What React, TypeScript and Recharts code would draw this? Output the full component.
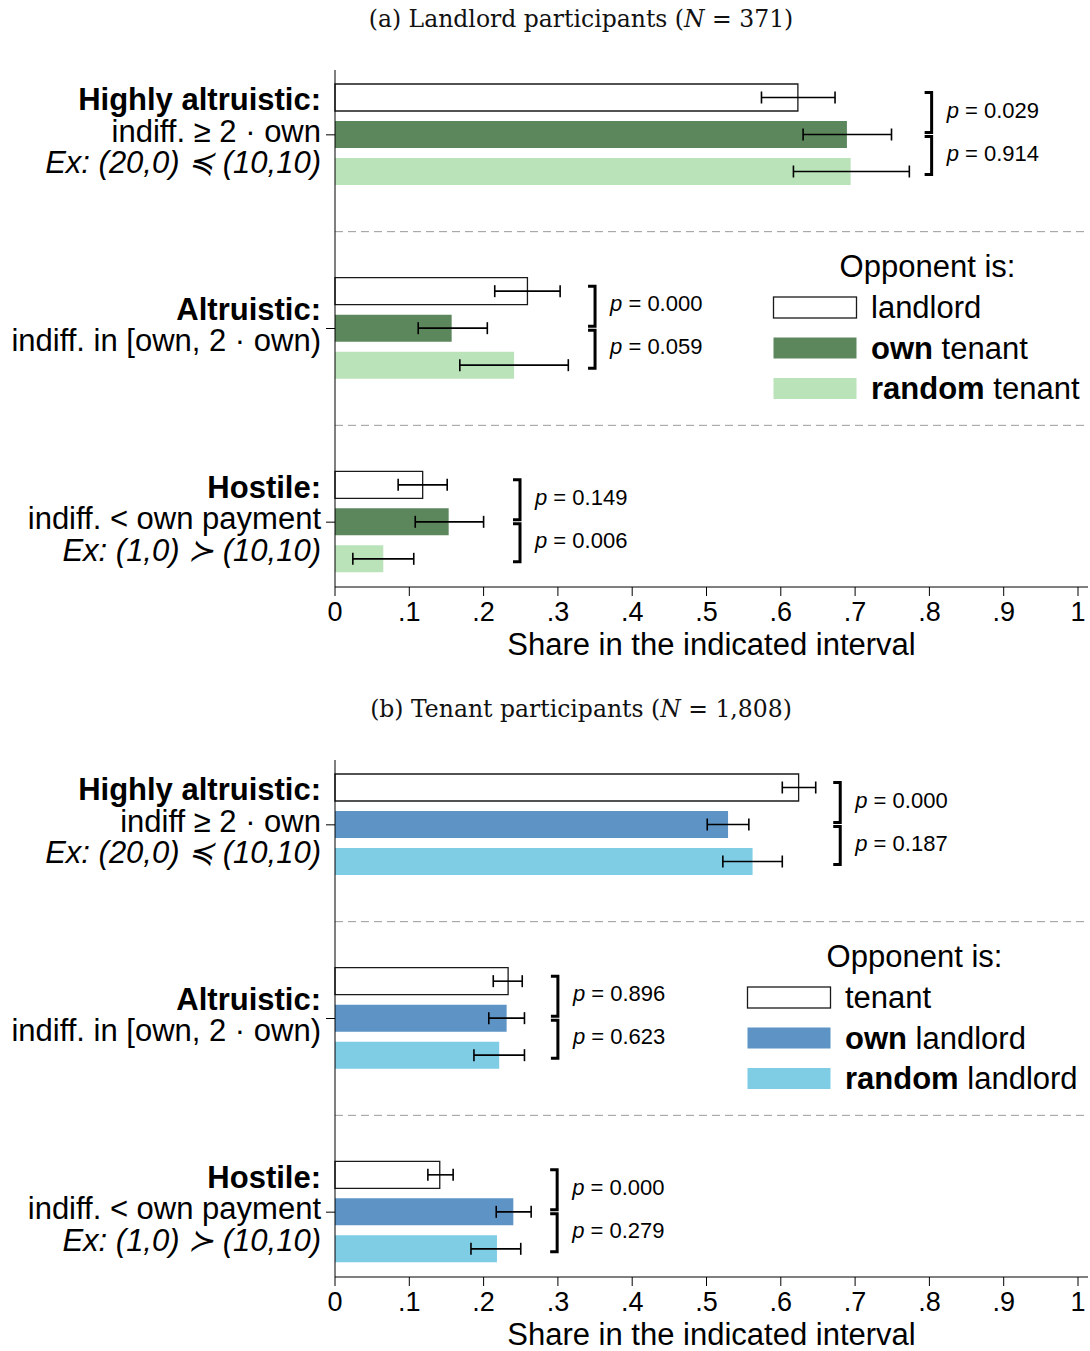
import React from 'react';
import { BarChart, Bar, XAxis, YAxis, ErrorBar, ReferenceLine, Legend, Rectangle } from 'recharts';

const categories = ['Highly altruistic', 'Altruistic', 'Hostile'];
const xTicks = [0, 0.1, 0.2, 0.3, 0.4, 0.5, 0.6, 0.7, 0.8, 0.9, 1];

// (a) landlord participants
const landlordA = [0.623, 0.259, 0.118];
const landlordALo = [0.574, 0.215, 0.085];
const landlordAHi = [0.673, 0.303, 0.151];
const ownTenantA = [0.689, 0.157, 0.153];
const ownTenantALo = [0.630, 0.112, 0.108];
const ownTenantAHi = [0.749, 0.205, 0.200];
const randomTenantA = [0.694, 0.241, 0.065];
const randomTenantALo = [0.617, 0.168, 0.024];
const randomTenantAHi = [0.773, 0.314, 0.106];
const pTopA = ['0.029', '0.000', '0.149'];
const pBottomA = ['0.914', '0.059', '0.006'];
const bracketAtA = [0.803, 0.35, 0.249];

// (b) tenant participants
const tenantB = [0.624, 0.233, 0.141];
const tenantBLo = [0.602, 0.213, 0.125];
const tenantBHi = [0.647, 0.252, 0.159];
const ownLandlordB = [0.529, 0.231, 0.240];
const ownLandlordBLo = [0.501, 0.207, 0.217];
const ownLandlordBHi = [0.557, 0.255, 0.264];
const randomLandlordB = [0.562, 0.221, 0.218];
const randomLandlordBLo = [0.522, 0.187, 0.183];
const randomLandlordBHi = [0.602, 0.255, 0.250];
const pTopB = ['0.000', '0.896', '0.000'];
const pBottomB = ['0.187', '0.623', '0.279'];
const bracketAtB = [0.68, 0.30, 0.299];

const tickLinesA = [
  [['Highly altruistic:', 'b'], ['indiff. ≥ 2 · own', 'n'], ['Ex: (20,0) ≼ (10,10)', 'i']],
  [['Altruistic:', 'b'], ['indiff. in [own, 2 · own)', 'n']],
  [['Hostile:', 'b'], ['indiff. < own payment', 'n'], ['Ex: (1,0) ≻ (10,10)', 'i']],
];
const tickLinesB = [
  [['Highly altruistic:', 'b'], ['indiff ≥ 2 · own', 'n'], ['Ex: (20,0) ≼ (10,10)', 'i']],
  [['Altruistic:', 'b'], ['indiff. in [own, 2 · own)', 'n']],
  [['Hostile:', 'b'], ['indiff. < own payment', 'n'], ['Ex: (1,0) ≻ (10,10)', 'i']],
];

const FONT = '"Liberation Sans", Arial, Helvetica, sans-serif';

type Series = { name: [string, string]; fill: string; stroke?: string; values: number[]; lo: number[]; hi: number[] };

const seriesA: Series[] = [
  { name: ['', 'landlord'], fill: '#ffffff', stroke: '#1a1a1a', values: landlordA, lo: landlordALo, hi: landlordAHi },
  { name: ['own', ' tenant'], fill: '#5c875c', values: ownTenantA, lo: ownTenantALo, hi: ownTenantAHi },
  { name: ['random', ' tenant'], fill: '#bae3ba', values: randomTenantA, lo: randomTenantALo, hi: randomTenantAHi },
];
const seriesB: Series[] = [
  { name: ['', 'tenant'], fill: '#ffffff', stroke: '#1a1a1a', values: tenantB, lo: tenantBLo, hi: tenantBHi },
  { name: ['own', ' landlord'], fill: '#5d93c5', values: ownLandlordB, lo: ownLandlordBLo, hi: ownLandlordBHi },
  { name: ['random', ' landlord'], fill: '#7ecde5', values: randomLandlordB, lo: randomLandlordBLo, hi: randomLandlordBHi },
];

const BAR = 27;
const GAP = 10;

function Panel({ title, series, pTop, pBottom, bracketAt, tickLines, legendLeft }: any) {
  const rows = categories.map((c, i) => {
    const r: any = { group: c };
    series.forEach((s: Series, k: number) => {
      r[`s${k}`] = s.values[i];
      r[`s${k}err`] = [s.values[i] - s.lo[i], s.hi[i] - s.values[i]];
    });
    return r;
  });

  const YTick = (p: any) => {
    const idx = categories.indexOf(p.payload.value);
    const lines = tickLines[idx] || [];
    const n = lines.length;
    return (
      <g>
        {lines.map(([t, st]: string[], i: number) => (
          <text
            key={i}
            x={p.x}
            y={p.y + (i - (n - 1) / 2) * 31.5 + 7}
            textAnchor="end"
            fontSize={31}
            fontFamily={FONT}
            fontWeight={st === 'b' ? 'bold' : 'normal'}
            fontStyle={st === 'i' ? 'italic' : 'normal'}
            fill="#000"
          >
            {t}
          </text>
        ))}
      </g>
    );
  };

  // last bar of each group also carries the p-value brackets
  const bracketShape = (p: any) => {
    const { x, y, width, height, index, fill } = p;
    const v = series[2].values[index];
    const k = width / v;
    const bx = x + bracketAt[index] * k;
    const c3 = y + height / 2;
    const c2 = c3 - (BAR + GAP);
    const c1 = c2 - (BAR + GAP);
    const segs: [number, number, string][] = [
      [c1 - 5, c2 - 2, pTop[index]],
      [c2 + 2, c3 + 3, pBottom[index]],
    ];
    return (
      <g>
        <Rectangle x={x} y={y} width={width} height={height} fill={fill} />
        {segs.map(([t, b, txt], i) => (
          <g key={i}>
            <path d={`M${bx - 7},${t}H${bx}V${b}H${bx - 7}`} stroke="#000" strokeWidth={3} fill="none" />
            <text x={bx + 15} y={(t + b) / 2 + 5} fontSize={22} fontFamily={FONT} fill="#000">
              <tspan fontStyle="italic">p</tspan> = {txt}
            </text>
          </g>
        ))}
      </g>
    );
  };

  const legendContent = () => {
    const w = 1082 - legendLeft;
    return (
      <svg width={w} height={170} style={{ display: 'block', overflow: 'visible' }}>
        <text x={w / 2} y={37} textAnchor="middle" fontSize={31} fontFamily={FONT} fill="#000">
          Opponent is:
        </text>
        {series.map((s: Series, i: number) => (
          <g key={i}>
            <rect x={0.5} y={57 + i * 40.5} width={83} height={21} fill={s.fill} stroke={s.stroke || 'none'} strokeWidth={1.3} />
            <text x={98} y={78 + i * 40.5} fontSize={31} fontFamily={FONT} fill="#000">
              {s.name[0] && <tspan fontWeight="bold">{s.name[0]}</tspan>}
              {s.name[1]}
            </text>
          </g>
        ))}
      </svg>
    );
  };

  return (
    <div style={{ position: 'relative', width: 1090, height: 690 }}>
      <div
        style={{
          position: 'absolute',
          top: 5,
          left: 581,
          transform: 'translateX(-50%)',
          whiteSpace: 'nowrap',
          fontFamily: '"DejaVu Serif", "Liberation Serif", serif',
          fontSize: 23.5,
          lineHeight: '28px',
          color: '#111',
        }}
      >
        {title}
      </div>
      <BarChart
        width={1090}
        height={690}
        data={rows}
        layout="vertical"
        margin={{ top: 70, right: 2, bottom: 0, left: 0 }}
        barSize={BAR}
        barGap={GAP}
        style={{ position: 'absolute', top: 0, left: 0 }}
      >
        <XAxis
          type="number"
          domain={[0, 1]}
          ticks={xTicks}
          padding={{ left: 0, right: 10 }}
          height={103}
          tickSize={9}
          tickMargin={6}
          interval={0}
          tickFormatter={(v: number) => (v === 0 ? '0' : v === 1 ? '1' : String(v).replace(/^0/, ''))}
          tick={{ fontSize: 27, fill: '#000', fontFamily: FONT }}
          stroke="#000"
          label={{ value: 'Share in the indicated interval', position: 'insideTop', offset: 46, fontSize: 31, fill: '#000', fontFamily: FONT }}
        />
        <YAxis
          type="category"
          dataKey="group"
          width={335}
          tickSize={9}
          tickMargin={5}
          padding={{ top: -32, bottom: -32 }}
          tick={<YTick />}
          stroke="#000"
        />
        {categories.slice(1).map((c) => (
          <ReferenceLine key={c} y={c} position="start" stroke="#9a9a9a" strokeDasharray="8 5" />
        ))}
        <Legend
          layout="horizontal"
          verticalAlign="middle"
          align="center"
          content={legendContent}
          wrapperStyle={{ position: 'absolute', left: legendLeft, top: 240, width: 1082 - legendLeft }}
        />
        {series.map((s: Series, k: number) => (
          <Bar
            key={k}
            dataKey={`s${k}`}
            name={s.name.join('')}
            fill={s.fill}
            stroke={s.stroke}
            strokeWidth={s.stroke ? 1.3 : 0}
            isAnimationActive={false}
            shape={k === 2 ? bracketShape : undefined}
          >
            <ErrorBar dataKey={`s${k}err`} direction="x" width={6} stroke="#000" strokeWidth={1.6} isAnimationActive={false} />
          </Bar>
        ))}
      </BarChart>
    </div>
  );
}

export default function App() {
  return (
    <div
      style={{
        position: 'absolute',
        top: 0,
        left: 0,
        width: 1090,
        height: 1351,
        background: '#fff',
        overflow: 'hidden',
        fontFamily: FONT,
      }}
    >
      <Panel
        title={<span>(a) Landlord participants (<i>N</i> = 371)</span>}
        series={seriesA}
        pTop={pTopA}
        pBottom={pBottomA}
        bracketAt={bracketAtA}
        tickLines={tickLinesA}
        legendLeft={773}
      />
      <Panel
        title={<span>(b) Tenant participants (<i>N</i> = 1,808)</span>}
        series={seriesB}
        pTop={pTopB}
        pBottom={pBottomB}
        bracketAt={bracketAtB}
        tickLines={tickLinesB}
        legendLeft={747}
      />
    </div>
  );
}
